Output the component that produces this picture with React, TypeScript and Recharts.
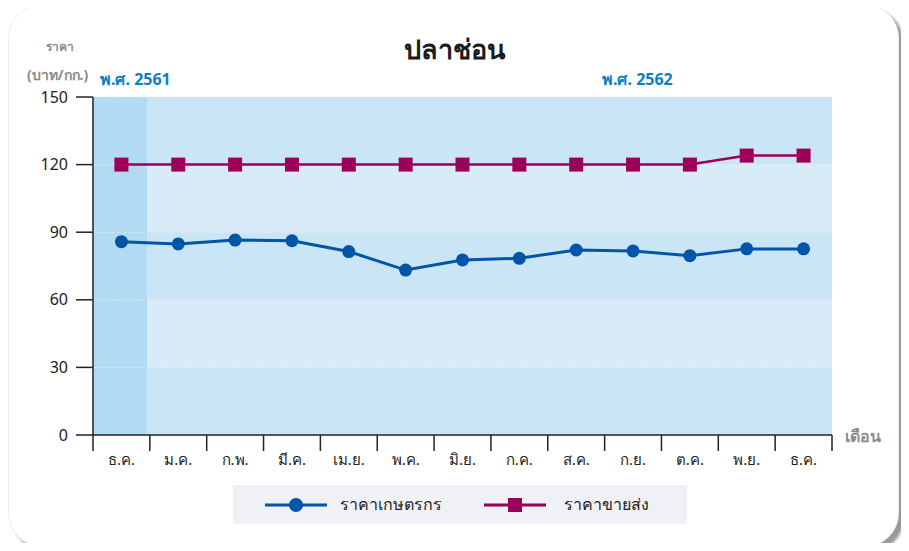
import {
  ComposedChart,
  Line,
  XAxis,
  YAxis,
  ReferenceArea,
  ReferenceLine,
  Legend,
} from "recharts";

const months = ["ธ.ค.", "ม.ค.", "ก.พ.", "มี.ค.", "เม.ย.", "พ.ค.", "มิ.ย.", "ก.ค.", "ส.ค.", "ก.ย.", "ต.ค.", "พ.ย.", "ธ.ค."];
const farmPrice = [85.8, 84.8, 86.5, 86.2, 81.4, 73.2, 77.7, 78.4, 82.1, 81.7, 79.6, 82.6, 82.6];
const wholesalePrice = [120, 120, 120, 120, 120, 120, 120, 120, 120, 120, 120, 124, 124];
const yTicks = [0, 30, 60, 90, 120, 150];
const xTicks = [0, 1, 2, 3, 4, 5, 6, 7, 8, 9, 10, 11, 12, 13];

const BLUE = "#0055a8";
const PURPLE = "#9c0058";
const BAND_DARK = "#c9e5f6";
const BAND_LIGHT = "#d7ecf8";
const FONT = "'Noto Sans', 'DejaVu Sans', sans-serif";

const W = 893;
const H = 535;
// legend height (39) is added to the bottom offset by recharts
const M = { top: 89, right: 69, left: 25, bottom: 29 };
const Y_W = 60;
const PLOT_W = W - M.left - M.right - Y_W;
const BAND = PLOT_W / months.length;

const data = months.map((m, i) => ({
  x: i + 0.5,
  month: m,
  farm: farmPrice[i],
  wholesale: wholesalePrice[i],
}));

function MonthTick(props: any) {
  const { x, y, payload } = props;
  const i = payload.value;
  if (i >= months.length) return null;
  return (
    <text
      x={x + BAND / 2}
      y={y + 12}
      textAnchor="middle"
      fill="#222"
      fontSize={15}
      fontFamily={FONT}
    >
      {months[i]}
    </text>
  );
}

function SquareDot(props: any) {
  const { cx, cy } = props;
  if (cx == null || cy == null) return null;
  return <rect x={cx - 7} y={cy - 7} width={14} height={14} fill={PURPLE} />;
}

function LegendBox() {
  return (
    <div
      style={{
        width: 454,
        height: 39,
        background: "#eff1f4",
        display: "flex",
        alignItems: "center",
        fontFamily: FONT,
        fontSize: 16,
        color: "#222",
      }}
    >
      <svg width={62} height={20} style={{ marginLeft: 32 }}>
        <line x1={0} y1={10} x2={62} y2={10} stroke={BLUE} strokeWidth={3} />
        <circle cx={31} cy={10} r={7} fill={BLUE} />
      </svg>
      <span style={{ marginLeft: 13 }}>ราคาเกษตรกร</span>
      <svg width={62} height={20} style={{ marginLeft: 42 }}>
        <line x1={0} y1={10} x2={62} y2={10} stroke={PURPLE} strokeWidth={3} />
        <rect x={24} y={3} width={14} height={14} fill={PURPLE} />
      </svg>
      <span style={{ marginLeft: 18 }}>ราคาขายส่ง</span>
    </div>
  );
}

export default function App() {
  const label = (left: number, top: number, text: string, style: any) => (
    <div style={{ position: "absolute", left, top, whiteSpace: "nowrap", fontFamily: FONT, ...style }}>{text}</div>
  );

  return (
    <div style={{ position: "relative", width: W, height: H }}>
      <div
        style={{
          position: "absolute",
          left: 0,
          top: -4,
          width: 891,
          height: 543,
          borderRadius: 34,
          background: "#fff",
          border: "1px solid #eeeeee",
          boxShadow: "5px 5px 3px #9a9a9a",
          boxSizing: "border-box",
        }}
      />
      <div style={{ position: "absolute", left: 0, top: 0 }}>
        <ComposedChart width={W} height={H} data={data} margin={M}>
          <XAxis
            dataKey="x"
            type="number"
            domain={[0, 13]}
            ticks={xTicks}
            interval={0}
            tick={<MonthTick />}
            tickSize={16}
            stroke="#222"
            axisLine={{ stroke: "#222", strokeWidth: 1.5 }}
            tickLine={{ stroke: "#222", strokeWidth: 1.5 }}
            height={40}
          />
          <YAxis
            type="number"
            domain={[0, 150]}
            ticks={yTicks}
            interval={0}
            width={Y_W}
            tickSize={17}
            tickMargin={8}
            tick={{ fill: "#222", fontSize: 16, fontFamily: FONT }}
            axisLine={{ stroke: "#222", strokeWidth: 1.5 }}
            tickLine={{ stroke: "#222", strokeWidth: 1.5 }}
          />
          <ReferenceArea y1={0} y2={30} fill={BAND_DARK} fillOpacity={1} stroke="none" />
          <ReferenceArea y1={30} y2={60} fill={BAND_LIGHT} fillOpacity={1} stroke="none" />
          <ReferenceArea y1={60} y2={90} fill={BAND_DARK} fillOpacity={1} stroke="none" />
          <ReferenceArea y1={90} y2={120} fill={BAND_LIGHT} fillOpacity={1} stroke="none" />
          <ReferenceArea y1={120} y2={150} fill={BAND_DARK} fillOpacity={1} stroke="none" />
          <ReferenceArea x1={0} x2={0.95} y1={0} y2={150} fill="#b1daf3" fillOpacity={1} stroke="none" />
          {yTicks.slice(1).map((t) => (
            <ReferenceLine key={t} y={t} stroke="#e4e4e4" strokeDasharray="4 2" strokeWidth={1} />
          ))}
          <Line
            dataKey="wholesale"
            type="linear"
            stroke={PURPLE}
            strokeWidth={2.5}
            dot={<SquareDot />}
            activeDot={false}
            isAnimationActive={false}
          />
          <Line
            dataKey="farm"
            type="linear"
            stroke={BLUE}
            strokeWidth={3}
            dot={{ r: 6.5, fill: BLUE, stroke: BLUE, strokeWidth: 0 }}
            activeDot={false}
            isAnimationActive={false}
          />
          <Legend
            content={<LegendBox />}
            wrapperStyle={{ left: 225, top: 477, width: 454, height: 39 }}
          />
        </ComposedChart>
      </div>
      {label(0, 20, "ปลาช่อน", { width: W, textAlign: "center", fontSize: 27, fontWeight: 700, color: "#1b1b1b" })}
      {label(38, 29, "ราคา", { fontSize: 12, fontWeight: 700, color: "#8a8a8a" })}
      {label(19, 56, "(บาท/กก.)", { fontSize: 14, fontWeight: 700, color: "#8a8a8a" })}
      {label(92, 59, "พ.ศ. 2561", { fontSize: 16, fontWeight: 700, color: "#0a7fc6" })}
      {label(594, 59, "พ.ศ. 2562", { fontSize: 16, fontWeight: 700, color: "#0a7fc6" })}
      {label(837, 416, "เดือน", { fontSize: 16, fontWeight: 700, color: "#8c8c8c" })}
    </div>
  );
}
